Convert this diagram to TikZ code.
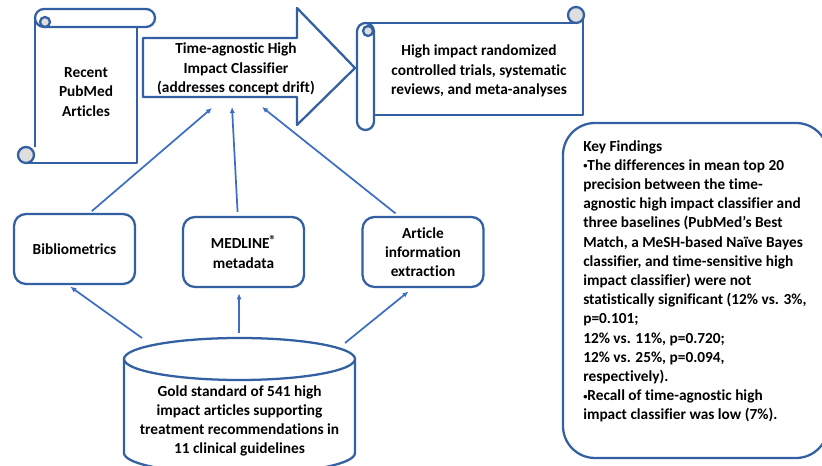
\documentclass[tikz,border=0pt]{standalone}
\usepackage{fontspec}
\setmainfont[Ligatures=NoCommon]{Carlito}
\usetikzlibrary{arrows.meta}
\definecolor{edgeblue}{RGB}{50,96,162}
\definecolor{linkblue}{RGB}{62,110,196}
\definecolor{curlgray}{RGB}{222,222,222}
\newcommand\bodyfont{\fontsize{11.5}{14.4}\selectfont\bfseries}
\newcommand\dotmark{\raisebox{0.2ex}{\scalebox{0.55}{•}}}

\begin{document}
\begin{tikzpicture}[x=0.75pt,y=-0.75pt,
    shape line/.style={draw=edgeblue,line width=1.7pt,line join=round},
    curl/.style={shape line,fill=curlgray},
    box/.style={shape line,rounded corners=9pt,minimum width=90.75pt,minimum height=52.5pt,align=center,font=\bodyfont},
    label/.style={align=center,font=\bodyfont,inner sep=0pt},
    link/.style={draw=linkblue,line width=1.3pt,-{Latex[length=4.5pt,width=4pt]}}]
    \useasboundingbox (0,0) rectangle (822,466);
    \clip (0,0) rectangle (822,466);
    %%% RECENT ARTICLES (scroll) %%%
    \draw[shape line] (44,27) -- (146,27) arc (90:-90:9) -- (44,9) arc (-90:-270:9);
    \draw[curl] (45,22) circle[radius=5];
    \draw[shape line] (35,18) -- (35,147);
    \draw[shape line] (137,27) -- (137,163) -- (27,163);
    \draw[curl] (26,155) circle[radius=8];
    \node[label] (articles) at (86,92) {Recent\\PubMed\\Articles};
    %%% CLASSIFIER (block arrow) %%%
    \draw[shape line] (143,38) -- (297,38) -- (297,8) -- (355,68) -- (297,125) -- (297,97) -- (143,97) -- cycle;
    \node[label] (classifier) at (236,69) {Time-agnostic High\\Impact Classifier\\(addresses concept drift)};
    %%% HIGH IMPACT TRIALS (scroll) %%%
    \draw[shape line,rounded corners=6.4pt] (357,23) rectangle (374,130);
    \draw[curl] (368,31) circle[radius=5];
    \draw[shape line] (366,23) -- (577,23);
    \draw[shape line] (583,15) -- (583,115) -- (374,115);
    \draw[curl] (576,15) circle[radius=8];
    \node[label] (trials) at (479,71) {High impact randomized\\controlled trials, systematic\\reviews, and meta-analyses};
    %%% FEATURE BOXES %%%
    \node[box] (biblio) at (74.5,249) {Bibliometrics};
    \node[box] (medline) at (243.5,252) {MEDLINE\raisebox{0.55ex}{\fontsize{9.5}{9.5}\selectfont®}\\metadata};
    \node[box] (extract) at (423,252) {Article\\information\\extraction};
    %%% GOLD STANDARD (cylinder) %%%
    \draw[shape line] (124,359) -- (124,453) arc (180:0:115.5 and 21) -- (355,359);
    \draw[shape line] (239.5,359) ellipse [x radius=115.5,y radius=21];
    \node[label] (gold) at (239.5,421) {Gold standard of 541 high\\impact articles supporting\\treatment recommendations in\\11 clinical guidelines};
    %%% KEY FINDINGS %%%
    \draw[shape line,rounded corners=24pt] (563,123) rectangle (828,458);
    \node[label,align=left,anchor=north west] (findings) at (583,140) {Key Findings\\
        \dotmark The differences in mean top 20\\
        precision between the time-\\
        agnostic high impact classifier and\\
        three baselines (PubMed’s Best\\
        Match, a MeSH-based Naïve Bayes\\
        classifier, and time-sensitive high\\
        impact classifier) were not\\
        statistically significant (12\% vs. 3\%,\\
        p=0.101;\\
        12\% vs. 11\%, p=0.720;\\
        12\% vs. 25\%, p=0.094,\\
        respectively).\\
        \dotmark Recall of time-agnostic high\\
        impact classifier was low (7\%).};
    %%% CONNECTORS %%%
    % into the classifier %
    \coordinate (cls-l) at (212,108);
    \coordinate (cls-m) at (232,107);
    \coordinate (cls-r) at (262,107);
    \draw[link,shorten <=2pt] (biblio.67) -- (cls-l);
    \draw[link,shorten <=3pt] (medline.99) -- (cls-m);
    \draw[link,shorten <=3pt] (extract.124) -- (cls-r);
    % from the gold standard %
    \coordinate (gold-l) at (142,338);
    \coordinate (gold-m) at (239,333);
    \coordinate (gold-r) at (345,343);
    \draw[link,shorten >=2pt] (gold-l) -- (biblio.-100);
    \draw[link,shorten >=4pt] (gold-m) -- (medline.-97);
    \draw[link,shorten >=4pt] (gold-r) -- (extract.-106);
\end{tikzpicture}
\end{document}
